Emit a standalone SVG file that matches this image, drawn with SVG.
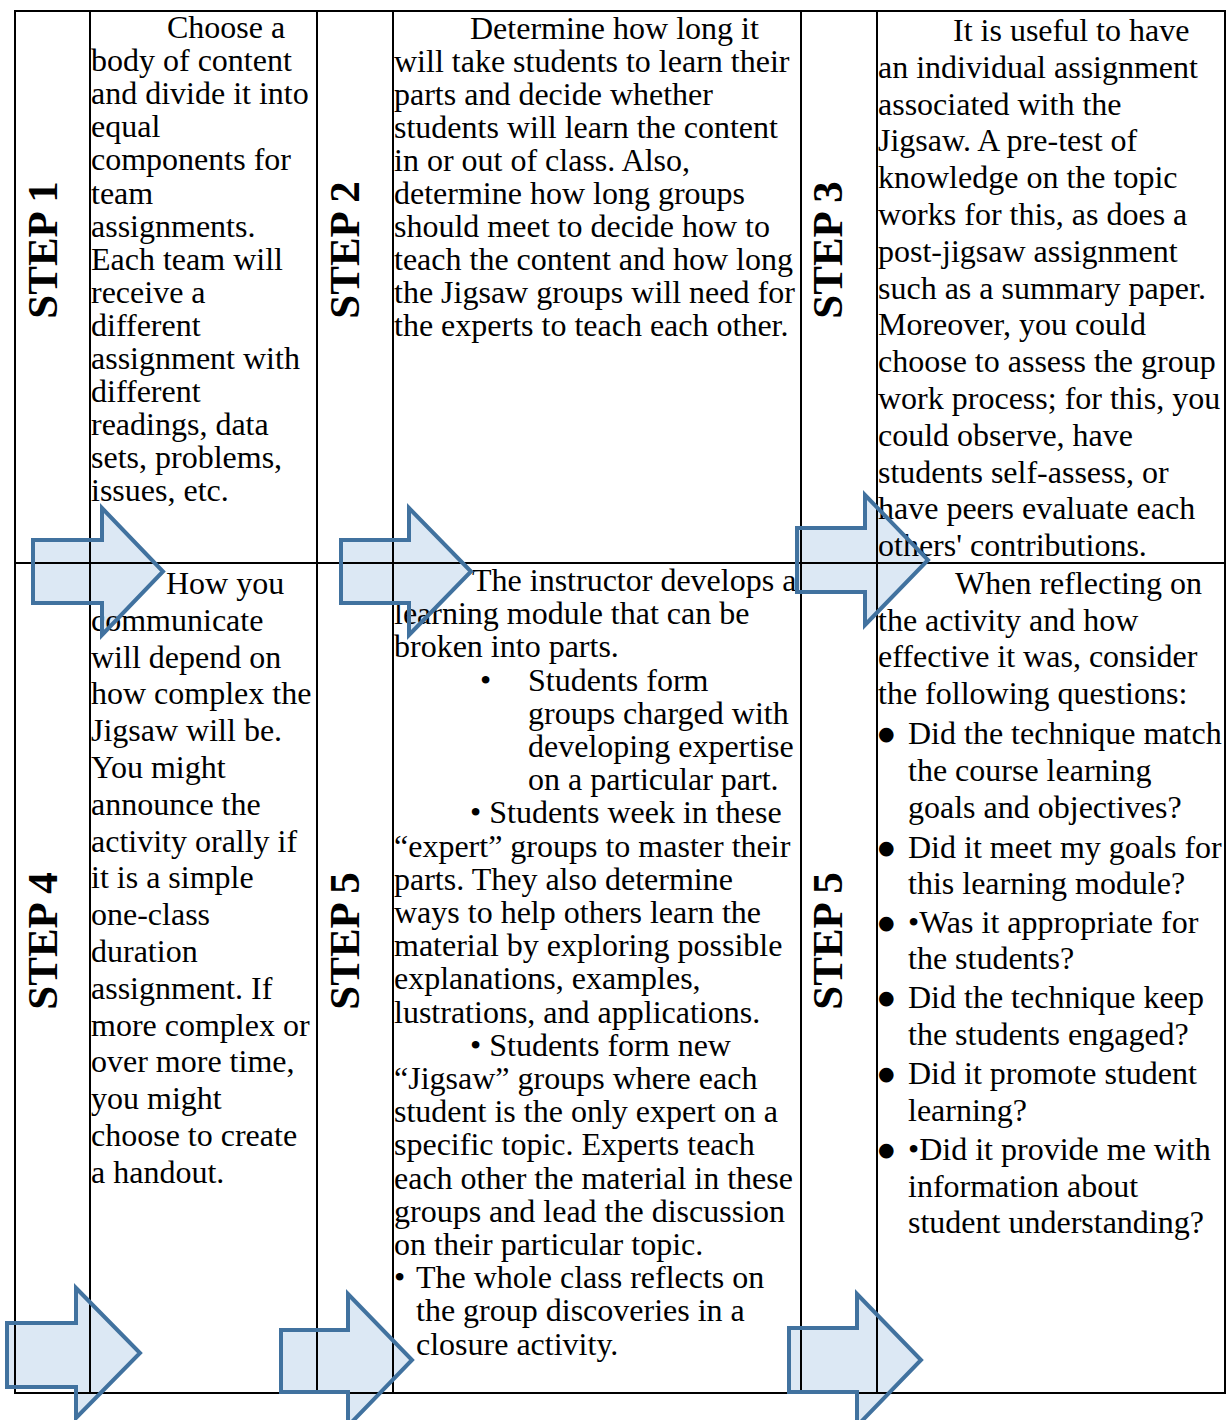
<svg xmlns="http://www.w3.org/2000/svg" xmlns:xlink="http://www.w3.org/1999/xlink" width="1232" height="1420" viewBox="0 0 1232 1420">
  <style>
    .grid { fill: none; stroke: #000; stroke-width: 2; }
    .body { font-family: "Liberation Serif", "Times New Roman", serif; font-size: 32px; fill: #000; }
    .dot { font-family: "DejaVu Sans", sans-serif; font-size: 19px; fill: #000; }
    .step { font-family: "Liberation Serif", "Times New Roman", serif; font-size: 43px; font-weight: bold; fill: #000; text-anchor: middle; }
    .arrow-fill { fill: #dce8f4; stroke: none; }
    .arrow-line { fill: none; stroke: #41729f; stroke-width: 4; stroke-linejoin: miter; }
  </style>
  <defs>
    <!-- block arrows: shaft left, shaft top/bottom, head base, head top/bottom, tip -->
    <polygon id="arrowA" points="33,540 102,540 102,508 163,571.5 102,635 102,603 33,603"/>
    <polygon id="arrowB" points="341,540 409,540 409,508 471,571.5 409,635 409,603 341,603"/>
    <polygon id="arrowC" points="797,528 865,528 865,495 928,560 865,625 865,592 797,592"/>
    <polygon id="arrowD" points="7,1323 76,1323 76,1288 140,1353 76,1418 76,1387 7,1387"/>
    <polygon id="arrowE" points="281,1330 348,1330 348,1294 412,1360 348,1426 348,1392 281,1392"/>
    <polygon id="arrowF" points="789,1328 857,1328 857,1294 921,1360 857,1426 857,1392 789,1392"/>
  </defs>

  <rect width="1232" height="1420" fill="#fff"/>

  <!-- arrow bodies sit behind the table rules and text -->
  <g id="arrow-fills" class="arrow-fill">
    <use xlink:href="#arrowA"/>
    <use xlink:href="#arrowB"/>
    <use xlink:href="#arrowC"/>
    <use xlink:href="#arrowD"/>
    <use xlink:href="#arrowE"/>
    <use xlink:href="#arrowF"/>
  </g>

  <!-- table rules -->
  <g id="table" class="grid">
    <rect x="15" y="11" width="1210" height="1382"/>
    <line x1="90" y1="11" x2="90" y2="1393"/>
    <line x1="317" y1="11" x2="317" y2="1393"/>
    <line x1="393" y1="11" x2="393" y2="1393"/>
    <line x1="801" y1="11" x2="801" y2="1393"/>
    <line x1="877" y1="11" x2="877" y2="1393"/>
    <line x1="15" y1="563" x2="1225" y2="563"/>
  </g>

  <!-- step labels -->
  <g id="step1"><text class="step" transform="translate(57,250) rotate(-90)">STEP 1</text></g>
  <g id="step2"><text class="step" transform="translate(359,250) rotate(-90)">STEP 2</text></g>
  <g id="step3"><text class="step" transform="translate(842,250) rotate(-90)">STEP 3</text></g>
  <g id="step4"><text class="step" transform="translate(57,941) rotate(-90)">STEP 4</text></g>
  <g id="step5a"><text class="step" transform="translate(359,941) rotate(-90)">STEP 5</text></g>
  <g id="step5b"><text class="step" transform="translate(842,941) rotate(-90)">STEP 5</text></g>

  <!-- step 1 text -->
  <g id="cell1">
    <text class="body">
      <tspan x="167" y="38">Choose a</tspan>
      <tspan x="91" y="71.1">body of content</tspan>
      <tspan x="91" y="104.2">and divide it into</tspan>
      <tspan x="91" y="137.3">equal</tspan>
      <tspan x="91" y="170.4">components for</tspan>
      <tspan x="91" y="203.5">team</tspan>
      <tspan x="91" y="236.6">assignments.</tspan>
      <tspan x="91" y="269.7">Each team will</tspan>
      <tspan x="91" y="302.8">receive a</tspan>
      <tspan x="91" y="335.9">different</tspan>
      <tspan x="91" y="369">assignment with</tspan>
      <tspan x="91" y="402.1">different</tspan>
      <tspan x="91" y="435.2">readings, data</tspan>
      <tspan x="91" y="468.3">sets, problems,</tspan>
      <tspan x="91" y="501.4">issues, etc.</tspan>
    </text>
  </g>

  <!-- step 2 text -->
  <g id="cell2">
    <text class="body">
      <tspan x="470" y="38.5">Determine how long it</tspan>
      <tspan x="394" y="71.6">will take students to learn their</tspan>
      <tspan x="394" y="104.7">parts and decide whether</tspan>
      <tspan x="394" y="137.8">students will learn the content</tspan>
      <tspan x="394" y="170.9">in or out of class. Also,</tspan>
      <tspan x="394" y="204">determine how long groups</tspan>
      <tspan x="394" y="237.1">should meet to decide how to</tspan>
      <tspan x="394" y="270.2">teach the content and how long</tspan>
      <tspan x="394" y="303.3">the Jigsaw groups will need for</tspan>
      <tspan x="394" y="336.4">the experts to teach each other.</tspan>
    </text>
  </g>

  <!-- step 3 text -->
  <g id="cell3">
    <text class="body">
      <tspan x="953" y="41">It is useful to have</tspan>
      <tspan x="878" y="77.8">an individual assignment</tspan>
      <tspan x="878" y="114.6">associated with the</tspan>
      <tspan x="878" y="151.4">Jigsaw. A pre-test of</tspan>
      <tspan x="878" y="188.2">knowledge on the topic</tspan>
      <tspan x="878" y="225">works for this, as does a</tspan>
      <tspan x="878" y="261.8">post-jigsaw assignment</tspan>
      <tspan x="878" y="298.6">such as a summary paper.</tspan>
      <tspan x="878" y="335.4">Moreover, you could</tspan>
      <tspan x="878" y="372.2">choose to assess the group</tspan>
      <tspan x="878" y="409">work process; for this, you</tspan>
      <tspan x="878" y="445.8">could observe, have</tspan>
      <tspan x="878" y="482.6">students self-assess, or</tspan>
      <tspan x="878" y="519.4">have peers evaluate each</tspan>
      <tspan x="878" y="556.2">others' contributions.</tspan>
    </text>
  </g>

  <!-- step 4 text -->
  <g id="cell4">
    <text class="body">
      <tspan x="166" y="594">How you</tspan>
      <tspan x="91" y="630.8">communicate</tspan>
      <tspan x="91" y="667.6">will depend on</tspan>
      <tspan x="91" y="704.4">how complex the</tspan>
      <tspan x="91" y="741.2">Jigsaw will be.</tspan>
      <tspan x="91" y="778">You might</tspan>
      <tspan x="91" y="814.8">announce the</tspan>
      <tspan x="91" y="851.6">activity orally if</tspan>
      <tspan x="91" y="888.4">it is a simple</tspan>
      <tspan x="91" y="925.2">one-class</tspan>
      <tspan x="91" y="962">duration</tspan>
      <tspan x="91" y="998.8">assignment. If</tspan>
      <tspan x="91" y="1035.6">more complex or</tspan>
      <tspan x="91" y="1072.4">over more time,</tspan>
      <tspan x="91" y="1109.2">you might</tspan>
      <tspan x="91" y="1146">choose to create</tspan>
      <tspan x="91" y="1182.8">a handout.</tspan>
    </text>
  </g>

  <!-- step 5 text (middle column) -->
  <g id="cell5a">
    <text class="body">
      <tspan x="472" y="591">The instructor develops a</tspan>
      <tspan x="394" y="624.2">learning module that can be</tspan>
      <tspan x="394" y="657.4">broken into parts.</tspan>
      <tspan x="480" y="690.6">•</tspan>
      <tspan x="528" y="690.6">Students form</tspan>
      <tspan x="528" y="723.8">groups charged with</tspan>
      <tspan x="528" y="757">developing expertise</tspan>
      <tspan x="528" y="790.2">on a particular part.</tspan>
      <tspan x="470" y="823.4">• Students week in these</tspan>
      <tspan x="394" y="856.6">“expert” groups to master their</tspan>
      <tspan x="394" y="889.8">parts. They also determine</tspan>
      <tspan x="394" y="923">ways to help others learn the</tspan>
      <tspan x="394" y="956.2">material by exploring possible</tspan>
      <tspan x="394" y="989.4">explanations, examples,</tspan>
      <tspan x="394" y="1022.6">lustrations, and applications.</tspan>
      <tspan x="470" y="1055.8">• Students form new</tspan>
      <tspan x="394" y="1089">“Jigsaw” groups where each</tspan>
      <tspan x="394" y="1122.2">student is the only expert on a</tspan>
      <tspan x="394" y="1155.4">specific topic. Experts teach</tspan>
      <tspan x="394" y="1188.6">each other the material in these</tspan>
      <tspan x="394" y="1221.8">groups and lead the discussion</tspan>
      <tspan x="394" y="1255">on their particular topic.</tspan>
      <tspan x="394" y="1288.2">•</tspan>
      <tspan x="416" y="1288.2">The whole class reflects on</tspan>
      <tspan x="416" y="1321.4">the group discoveries in a</tspan>
      <tspan x="416" y="1354.6">closure activity.</tspan>
    </text>
  </g>

  <!-- step 5 text (right column) -->
  <g id="cell5b">
    <text class="body">
      <tspan x="955" y="594">When reflecting on</tspan>
      <tspan x="878" y="631">the activity and how</tspan>
      <tspan x="878" y="667">effective it was, consider</tspan>
      <tspan x="878" y="704">the following questions:</tspan>
      <tspan x="908" y="744">Did the technique match</tspan>
      <tspan x="908" y="781">the course learning</tspan>
      <tspan x="908" y="818">goals and objectives?</tspan>
      <tspan x="908" y="858">Did it meet my goals for</tspan>
      <tspan x="908" y="894">this learning module?</tspan>
      <tspan x="908" y="933">•Was it appropriate for</tspan>
      <tspan x="908" y="969">the students?</tspan>
      <tspan x="908" y="1008">Did the technique keep</tspan>
      <tspan x="908" y="1045">the students engaged?</tspan>
      <tspan x="908" y="1084">Did it promote student</tspan>
      <tspan x="908" y="1121">learning?</tspan>
      <tspan x="908" y="1160">•Did it provide me with</tspan>
      <tspan x="908" y="1197">information about</tspan>
      <tspan x="908" y="1233">student understanding?</tspan>
    </text>
    <!-- list markers -->
    <text class="dot">
      <tspan x="878" y="740">●</tspan>
      <tspan x="878" y="854">●</tspan>
      <tspan x="878" y="929">●</tspan>
      <tspan x="878" y="1004">●</tspan>
      <tspan x="878" y="1080">●</tspan>
      <tspan x="878" y="1156">●</tspan>
    </text>
  </g>

  <!-- arrow outlines drawn over everything -->
  <g id="arrow-outlines" class="arrow-line">
    <use xlink:href="#arrowA"/>
    <use xlink:href="#arrowB"/>
    <use xlink:href="#arrowC"/>
    <use xlink:href="#arrowD"/>
    <use xlink:href="#arrowE"/>
    <use xlink:href="#arrowF"/>
  </g>
</svg>
